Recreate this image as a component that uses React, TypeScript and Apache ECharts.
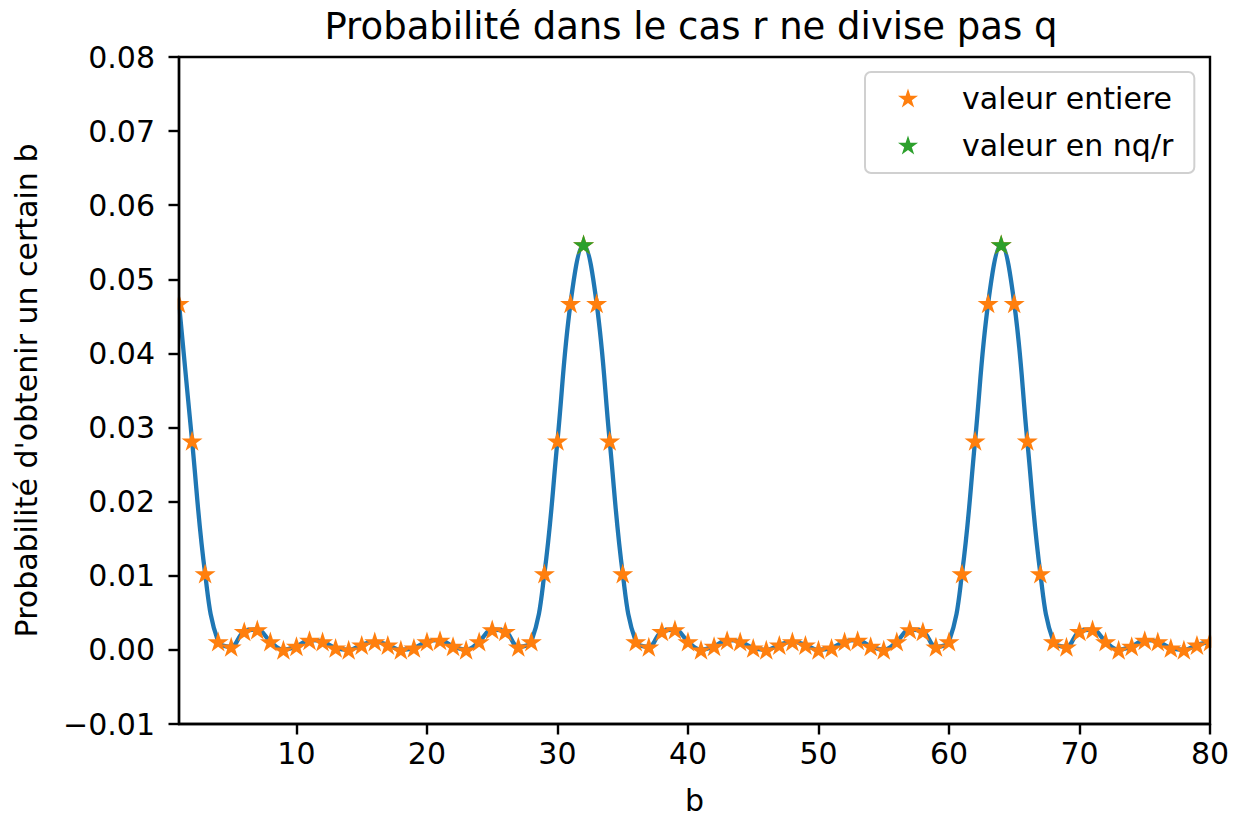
import React, { useEffect, useRef } from "react";
import * as echarts from "echarts";

// ---- data ----
const bValues: number[] = [
  1, 2, 3, 4, 5, 6, 7, 8, 9, 10, 11, 12, 13, 14, 15, 16, 17, 18, 19, 20,
  21, 22, 23, 24, 25, 26, 27, 28, 29, 30, 31, 32, 33, 34, 35, 36, 37, 38, 39, 40,
  41, 42, 43, 44, 45, 46, 47, 48, 49, 50, 51, 52, 53, 54, 55, 56, 57, 58, 59, 60,
  61, 62, 63, 64, 65, 66, 67, 68, 69, 70, 71, 72, 73, 74, 75, 76, 77, 78, 79, 80,
];

const probabilities: number[] = [
  0.04676, 0.02821, 0.0103, 0.00112, 0.00042, 0.0025, 0.00275, 0.00112, 0.00002, 0.0005,
  0.00131, 0.00112, 0.00027, 0.00001, 0.00067, 0.00112, 0.00067, 0.00001, 0.00027, 0.00112,
  0.00131, 0.0005, 0.00002, 0.00112, 0.00275, 0.0025, 0.00042, 0.00112, 0.0103, 0.02821,
  0.04676, 0.05469, 0.04676, 0.02821, 0.0103, 0.00112, 0.00042, 0.0025, 0.00275, 0.00112,
  0.00002, 0.0005, 0.00131, 0.00112, 0.00027, 0.00001, 0.00067, 0.00112, 0.00067, 0.00001,
  0.00027, 0.00112, 0.00131, 0.0005, 0.00002, 0.00112, 0.00275, 0.0025, 0.00042, 0.00112,
  0.0103, 0.02821, 0.04676, 0.05469, 0.04676, 0.02821, 0.0103, 0.00112, 0.00042, 0.0025,
  0.00275, 0.00112, 0.00002, 0.0005, 0.00131, 0.00112, 0.00027, 0.00001, 0.00067, 0.00112,
];

const peakB: number[] = [32, 64];
const peakProb: number[] = [0.05469, 0.05469];

const xTickValues: number[] = [10, 20, 30, 40, 50, 60, 70, 80];
const yMin = -0.01;
const yMax = 0.08;
const yStep = 0.01;

const TITLE = "Probabilité dans le cas r ne divise pas q";
const X_NAME = "b";
const Y_NAME = "Probabilité d'obtenir un certain b";
const LEGEND_INT = "valeur entiere";
const LEGEND_PEAK = "valeur en nq/r";

// ---- styles ----
const FONT = "DejaVu Sans";
const BLUE = "#1f77b4";
const ORANGE = "#ff7f0e";
const GREEN = "#2ca02c";
const STAR =
  "path://M0,-1L0.2245,-0.309L0.9511,-0.309L0.3633,0.118L0.5878,0.809L0,0.382L-0.5878,0.809L-0.3633,0.118L-0.9511,-0.309L-0.2245,-0.309Z";

const GRID_LEFT = 179;
const GRID_TOP = 57;
const GRID_RIGHT_X = 1210;
const GRID_BOTTOM_Y = 727;

export default function App() {
  const ref = useRef<HTMLDivElement>(null);

  useEffect(() => {
    if (!ref.current) return;
    const chart = echarts.init(ref.current, undefined, { renderer: "svg" });

    const lineData = bValues.map((b, i) => [b, probabilities[i]]);
    const peakData = peakB.map((b, i) => [b, peakProb[i]]);

    const axisLine = { show: true, onZero: false, lineStyle: { color: "#000", width: 2.4 } };
    const axisTick = { show: true, inside: false, length: 10.5, lineStyle: { color: "#000", width: 2.4 } };

    chart.setOption({
      animation: false,
      backgroundColor: "#fff",
      title: {
        text: TITLE,
        left: 691,
        top: 8,
        padding: 0,
        textAlign: "center",
        textStyle: {
          fontFamily: FONT,
          fontSize: 37,
          fontWeight: "normal",
          color: "#000",
          lineHeight: 37,
        },
      },
      legend: {
        orient: "vertical",
        left: 865,
        top: 72,
        padding: [11, 21, 13, 33],
        itemWidth: 20,
        itemHeight: 20,
        itemGap: 17,
        backgroundColor: "rgba(255,255,255,0.8)",
        borderColor: "#d0d0d0",
        borderWidth: 2,
        borderRadius: 6,
        data: [
          { name: LEGEND_INT, icon: STAR },
          { name: LEGEND_PEAK, icon: STAR },
        ],
        formatter: (name: string) => "{t|" + name + "}",
        textStyle: {
          fontFamily: FONT,
          fontSize: 30,
          color: "#000",
          lineHeight: 30,
          rich: {
            t: {
              fontFamily: FONT,
              fontSize: 30,
              color: "#000",
              lineHeight: 30,
              padding: [0, 0, 0, 39],
            },
          },
        },
      },
      grid: {
        left: GRID_LEFT,
        top: GRID_TOP,
        width: GRID_RIGHT_X - GRID_LEFT,
        height: GRID_BOTTOM_Y - GRID_TOP,
        show: true,
        borderColor: "#000",
        borderWidth: 2.4,
        backgroundColor: "transparent",
        z: 4,
      },
      xAxis: {
        type: "value",
        min: 1,
        max: 80,
        z: 4,
        name: X_NAME,
        nameLocation: "middle",
        nameGap: 61,
        nameTextStyle: { fontFamily: FONT, fontSize: 30, color: "#000", lineHeight: 30 },
        axisLine,
        axisTick: { ...axisTick, customValues: xTickValues },
        axisLabel: {
          customValues: xTickValues,
          fontFamily: FONT,
          fontSize: 30,
          color: "#000",
          margin: 14,
          lineHeight: 30,
        },
        splitLine: { show: false },
      },
      yAxis: {
        type: "value",
        min: yMin,
        max: yMax,
        interval: yStep,
        z: 4,
        name: Y_NAME,
        nameLocation: "middle",
        nameGap: 138,
        nameTextStyle: { fontFamily: FONT, fontSize: 30, color: "#000", lineHeight: 30 },
        axisLine,
        axisTick,
        axisLabel: {
          fontFamily: FONT,
          fontSize: 30,
          color: "#000",
          margin: 24,
          formatter: (v: number) => {
            const s = Math.abs(v).toFixed(2);
            return v < -1e-9 ? "\u2212" + s : s;
          },
        },
        splitLine: { show: false },
      },
      graphic: [
        {
          type: "rect",
          z: 3,
          silent: true,
          shape: { x: 150, y: GRID_TOP - 12, width: GRID_LEFT - 1.3 - 150, height: GRID_BOTTOM_Y - GRID_TOP + 24 },
          style: { fill: "#fff" },
        },
        {
          type: "rect",
          z: 3,
          silent: true,
          shape: { x: GRID_RIGHT_X + 1.3, y: GRID_TOP - 12, width: 1233 - GRID_RIGHT_X, height: GRID_BOTTOM_Y - GRID_TOP + 24 },
          style: { fill: "#fff" },
        },
      ],
      series: [
        {
          type: "line",
          name: "courbe",
          data: lineData,
          showSymbol: false,
          smooth: 0.4,
          lineStyle: { color: BLUE, width: 4.3 },
          itemStyle: { color: BLUE },
          z: 2,
          silent: true,
        },
        {
          type: "scatter",
          name: LEGEND_INT,
          data: lineData,
          symbol: STAR,
          symbolKeepAspect: true,
          symbolSize: 21,
          itemStyle: { color: ORANGE, opacity: 1 },
          z: 2,
        },
        {
          type: "scatter",
          name: LEGEND_PEAK,
          data: peakData,
          symbol: STAR,
          symbolKeepAspect: true,
          symbolSize: 21,
          itemStyle: { color: GREEN, opacity: 1 },
          z: 2,
        },
      ],
    });

    return () => {
      chart.dispose();
    };
  }, []);

  return (
    <div
      ref={ref}
      style={{ position: "absolute", left: 0, top: 0, width: 1233, height: 820, background: "#fff" }}
    />
  );
}
